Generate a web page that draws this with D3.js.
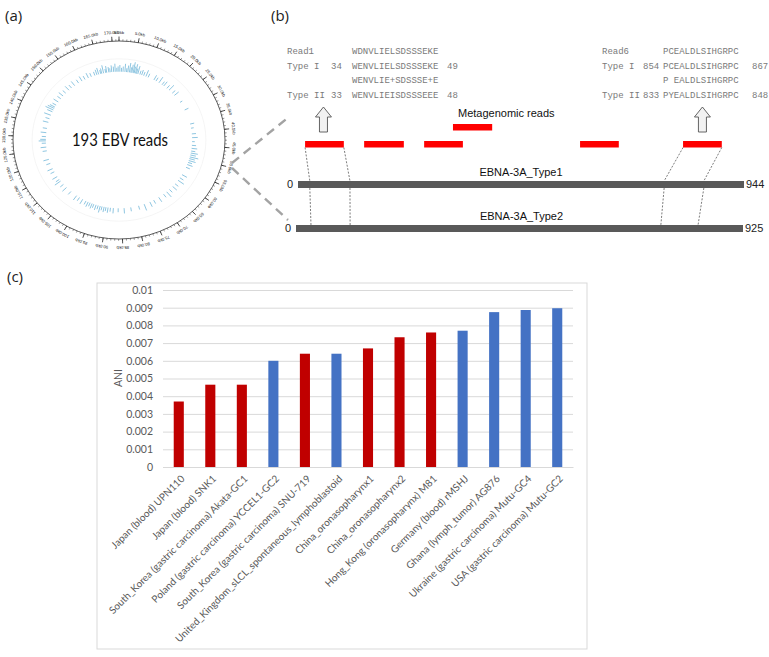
<!DOCTYPE html>
<html><head><meta charset="utf-8">
<script src="https://cdn.jsdelivr.net/npm/d3@7"></script>
<style>body{margin:0;background:#fff}svg{display:block}</style>
</head><body>
<svg id="c" width="769" height="657"></svg>
<script>
// ---------- DATA ----------
const categories = [
  "Japan (blood) UPN110","Japan (blood) SNK1","South_Korea (gastric carcinoma) Akata-GC1",
  "Poland (gastric carcinoma) YCCEL1-GC2","South_Korea (gastric carcinoma) SNU-719",
  "United_Kingdom_sLCL_spontaneous_lymphoblastoid","China_oronasopharynx1","China_oronasopharynx2",
  "Hong_Kong (oronasopharynx) M81","Germany (blood) rMSHJ","Ghana (lymph_tumor) AG876",
  "Ukraine (gastric carcinoma) Mutu-GC4","USA (gastric carcinoma) Mutu-GC2"];
const aniValues = [0.0037,0.00465,0.00465,0.0060,0.0064,0.0064,0.0067,0.00733,0.0076,0.0077,0.00875,0.00887,0.00897];
const barGroup = ["t1","t1","t1","t2","t1","t2","t1","t1","t1","t2","t2","t2","t2"];
const yTicks = [0,0.001,0.002,0.003,0.004,0.005,0.006,0.007,0.008,0.009,0.01];
const yTickLabels = ["0","0.001","0.002","0.003","0.004","0.005","0.006","0.007","0.008","0.009","0.01"];

const genomeKb = 171.8;
const majorTicksKb = [0,5,10,15,20,25,30,35,40,45,50,55,60,65,70,75,80,85,90,95,100,105,110,115,120,125,130,135,140,145,150,155,160,165,170];
// [position kb, depth]
const readHits = [
 [162.6,2],[163.4,3],[164.1,4],[164.9,2],[165.3,3],[166.0,5],[166.8,2],[167.2,4],[168.0,3],[168.5,2],
 [169.1,4],[169.8,3],[170.4,5],[171.0,2],[171.5,3],[0.3,4],[0.9,2],[1.5,3],[2.2,5],[2.8,2],
 [3.3,4],[3.9,6],[4.4,3],[4.8,5],[5.3,7],[5.7,4],[6.2,6],[6.6,3],[7.1,5],[7.9,2],
 [8.6,3],[9.4,2],[10.3,4],[11.2,2],[13.6,3],[14.5,2],[15.8,4],[17.2,2],[18.0,3],[19.5,2],
 [20.6,4],[22.3,2],[23.5,3],[27.0,1],[30.5,2],[36.5,2],[38.2,1],[40.5,2],[42.0,3],[43.6,1],
 [45.1,2],[46.3,3],[47.4,2],[48.2,4],[49.0,3],[49.8,5],[50.5,3],[51.3,4],[52.1,2],[53.0,3],
 [54.2,2],[57.5,3],[59.0,2],[60.2,4],[62.0,2],[63.4,3],[65.1,2],[66.5,4],[68.0,2],[70.2,3],
 [72.4,2],[74.0,3],[76.3,4],[78.5,2],[81.5,2],[84.0,3],[86.2,2],[88.0,3],[89.1,2],[90.0,3],
 [90.8,2],[91.5,3],[92.3,2],[93.0,4],[93.8,2],[94.6,3],[95.5,2],[96.2,3],[97.0,2],[97.8,3],
 [98.7,2],[100.1,3],[101.5,2],[102.8,3],[105.5,2],[107.8,3],[109.5,2],[111.2,4],[112.0,2],[113.4,3],
 [115.6,2],[117.0,3],[119.3,2],[121.0,3],[124.5,2],[126.0,3],[127.6,2],[128.5,4],[129.1,3],[130.2,2],
 [131.8,3],[133.5,2],[136.0,3],[137.5,2],[139.0,4],[140.5,3],[141.3,5],[142.0,4],[142.6,3],[143.5,2],
 [145.0,3],[146.6,2],[148.0,3],[149.5,2],[151.2,3],[152.5,2],[154.0,3],[155.8,2],[157.3,3],[158.6,2],
 [160.0,3],[161.2,2]];

const alignLeftRows = [
  ["Read1","","WDNVLIELSDSSSEKE",""],
  ["Type I","34","WENVLIELSDSSSEKE","49"],
  ["","","WENVLIE+SDSSSE+E",""],
  ["Type II","33","WENVLIEISDSSSEEE","48"]];
const alignRightRows = [
  ["Read6","","PCEALDLSIHGRPC",""],
  ["Type I","854","PCEALDLSIHGRPC","867"],
  ["","","P EALDLSIHGRPC",""],
  ["Type II","833","PYEALDLSIHGRPC","848"]];
const geneNames = ["EBNA-3A_Type1","EBNA-3A_Type2"];
const geneLengths = [944,925];
// metagenomic reads on Type1 coordinates: [start, end, row]
const metaReads = [[15,97,0],[140,224,0],[267,349,0],[328,411,1],[597,679,0],[815,897,0]];
// dashed mapping of read ends: [readIndex, end(0/1), type1 pos, type2 pos]
const readMappings = [[0,0,25,31],[0,1,110,112],[5,0,775,755],[5,1,859,832]];

// ---------- DRAW ----------
const svg = d3.select("#c");
const font = "'Liberation Sans', Arial, sans-serif";

// panel labels
svg.append("text").attr("x",5).attr("y",21).text("(a)").attr("font-family","'Open Sans',sans-serif").attr("font-size",15).attr("fill","#222");
svg.append("text").attr("x",271).attr("y",21).text("(b)").attr("font-family","'Open Sans',sans-serif").attr("font-size",15).attr("fill","#222");
svg.append("text").attr("x",7).attr("y",282).text("(c)").attr("font-family","'Open Sans',sans-serif").attr("font-size",15).attr("fill","#222");

// ---- panel a: circular genome ----
const cx=119, cy=140, rx=106, ry=99;
const ang = d3.scaleLinear().domain([0,genomeKb]).range([0,2*Math.PI]);
const pt = (kb,f)=>[cx+rx*f*Math.sin(ang(kb)), cy-ry*f*Math.cos(ang(kb))];
const ga = svg.append("g");
ga.append("ellipse").attr("cx",cx).attr("cy",cy).attr("rx",rx*0.82).attr("ry",ry*0.82).attr("fill","none").attr("stroke","#efefef").attr("stroke-width",0.6);
ga.append("ellipse").attr("cx",cx).attr("cy",cy).attr("rx",rx).attr("ry",ry).attr("fill","none").attr("stroke","#333").attr("stroke-width",0.8);
const minorKb = d3.range(0,genomeKb,1);
ga.selectAll("line.mn").data(minorKb).join("line").attr("class","mn")
  .attr("x1",d=>pt(d,1)[0]).attr("y1",d=>pt(d,1)[1]).attr("x2",d=>pt(d,1.018)[0]).attr("y2",d=>pt(d,1.018)[1])
  .attr("stroke","#333").attr("stroke-width",0.5);
ga.selectAll("line.mj").data(majorTicksKb).join("line").attr("class","mj")
  .attr("x1",d=>pt(d,1)[0]).attr("y1",d=>pt(d,1)[1]).attr("x2",d=>pt(d,1.045)[0]).attr("y2",d=>pt(d,1.045)[1])
  .attr("stroke","#222").attr("stroke-width",0.8);
ga.selectAll("text.tl").data(majorTicksKb).join("text").attr("class","tl")
  .attr("transform",d=>{const p=pt(d,1.085);return `translate(${p[0]},${p[1]}) rotate(${ang(d)*180/Math.PI})`;})
  .attr("text-anchor","middle").attr("dy","0.3em").attr("font-family",font).attr("font-size",4.2).attr("fill","#222")
  .text(d=>d.toFixed(1)+"kb");
const depthLen = d3.scaleLinear().domain([1,7]).range([0.025,0.11]);
ga.selectAll("line.rd").data(readHits).join("line").attr("class","rd")
  .attr("x1",d=>pt(d[0],0.69)[0]).attr("y1",d=>pt(d[0],0.69)[1])
  .attr("x2",d=>pt(d[0],0.69+depthLen(d[1]))[0]).attr("y2",d=>pt(d[0],0.69+depthLen(d[1]))[1])
  .attr("stroke","#4fa6d0").attr("stroke-width",0.9).attr("opacity",0.7);
ga.append("text").attr("x",cx+1).attr("y",cy+6).attr("text-anchor","middle").attr("font-family","Lato,'Open Sans',sans-serif").attr("font-size",18)
  .attr("textLength",96).attr("lengthAdjust","spacingAndGlyphs").attr("fill","#111").text("193 EBV reads");

// connectors
svg.append("line").attr("x1",232).attr("y1",163).attr("x2",290).attr("y2",116).attr("stroke","#a3a3a3").attr("stroke-width",2.4).attr("stroke-dasharray","9,6");
svg.append("line").attr("x1",232).attr("y1",168).attr("x2",288).attr("y2",220).attr("stroke","#a3a3a3").attr("stroke-width",2.4).attr("stroke-dasharray","9,6");

// ---- panel b ----
const gb = svg.append("g");
const mono = "'Liberation Mono','Courier New',monospace";
const rowY = [54,68.5,83,98];
function alignBlock(rows, xs){
  rows.forEach((r,i)=>{
    r.forEach((t,j)=>{ if(t) gb.append("text").attr("x",xs[j]).attr("y",rowY[i]).attr("font-family",mono).attr("font-size",9).attr("fill","#7a7a7a").attr("xml:space","preserve").text(t); });
  });
}
alignBlock(alignLeftRows,[287,331,352,447]);
alignBlock(alignRightRows,[602,643,663,752]);

const gx = [d3.scaleLinear().domain([0,geneLengths[0]]).range([298,744]), d3.scaleLinear().domain([0,geneLengths[1]]).range([296,743])];
const geneY = [181,225], barH = 7;
const readRowY = [141,124];
// hollow arrows
function arrow(x){
  const top=107,bot=132,hw=8,sw=4,hh=10;
  const p=[[x,top],[x+hw,top+hh],[x+sw,top+hh],[x+sw,bot],[x-sw,bot],[x-sw,top+hh],[x-hw,top+hh]];
  gb.append("path").attr("d","M"+p.join("L")+"Z").attr("fill","#f2f2f2").attr("stroke","#555").attr("stroke-width",0.9);
}
arrow(gx[0](metaReads[0][0]+ (metaReads[0][1]-metaReads[0][0])/2 )-1);
arrow(gx[0](metaReads[5][0]+ (metaReads[5][1]-metaReads[5][0])/2 ));
gb.append("text").attr("x",458).attr("y",117).attr("font-family",font).attr("font-size",11).attr("fill","#111").text("Metagenomic reads");
gb.selectAll("rect.mr").data(metaReads).join("rect").attr("class","mr")
  .attr("x",d=>gx[0](d[0])).attr("width",d=>gx[0](d[1])-gx[0](d[0]))
  .attr("y",d=>readRowY[d[2]]).attr("height",6.5).attr("fill","#ff0000");
// mapping lines
readMappings.forEach(m=>{
  const r = metaReads[m[0]]; const rx0 = gx[0](r[m[1]]);
  gb.append("line").attr("x1",rx0).attr("y1",readRowY[r[2]]+6.5).attr("x2",gx[0](m[2])).attr("y2",geneY[0])
    .attr("stroke","#444").attr("stroke-width",0.7).attr("stroke-dasharray","2,1.5");
  gb.append("line").attr("x1",gx[0](m[2])).attr("y1",geneY[0]+barH).attr("x2",gx[1](m[3])).attr("y2",geneY[1])
    .attr("stroke","#444").attr("stroke-width",0.7).attr("stroke-dasharray","2,1.5");
});
geneNames.forEach((g,i)=>{
  gb.append("rect").attr("x",gx[i](0)).attr("y",geneY[i]).attr("width",gx[i](geneLengths[i])-gx[i](0)).attr("height",barH).attr("fill","#595959");
  gb.append("text").attr("x",(gx[i](0)+gx[i](geneLengths[i]))/2+(i?2:0)).attr("y",geneY[i]-5).attr("text-anchor","middle").attr("font-family",font).attr("font-size",11).attr("fill","#111").text(g);
  gb.append("text").attr("x",gx[i](0)-5).attr("y",geneY[i]+7).attr("text-anchor","end").attr("font-family",font).attr("font-size",11).attr("fill","#222").text("0");
  gb.append("text").attr("x",gx[i](geneLengths[i])+2).attr("y",geneY[i]+7).attr("font-family",font).attr("font-size",11).attr("fill","#222").text(geneLengths[i]);
});

// ---- panel c: bar chart ----
const gc = svg.append("g");
gc.append("rect").attr("x",97).attr("y",283).attr("width",490).attr("height",366).attr("fill","#fff").attr("stroke","#d9d9d9").attr("stroke-width",1);
const x = d3.scaleBand().domain(categories).range([163,573]).paddingInner(0.68).paddingOuter(0.34);
const y = d3.scaleLinear().domain([0,0.01]).range([467,290]);
const colors = {t1:"#C00000", t2:"#4472C4"};
const yAxis = d3.axisLeft(y).tickValues(yTicks).tickFormat((d,i)=>yTickLabels[i]).tickSize(-(573-163)).tickPadding(10);
const ya = gc.append("g").attr("transform","translate(163,0)").call(yAxis);
ya.select(".domain").remove();
ya.selectAll("line").attr("stroke","#d9d9d9");
ya.selectAll("text").attr("font-family","Lato,'Open Sans',sans-serif").attr("font-size",10.5).attr("fill","#595959");
gc.selectAll("rect.bar").data(aniValues).join("rect").attr("class","bar")
  .attr("x",(d,i)=>x(categories[i])).attr("width",x.bandwidth())
  .attr("y",d=>y(d)).attr("height",d=>y(0)-y(d)).attr("fill",(d,i)=>colors[barGroup[i]]);
const xAxis = d3.axisBottom(x).tickSize(0).tickPadding(0);
const xa = gc.append("g").attr("transform",`translate(0,${y(0)})`).call(xAxis);
xa.select(".domain").attr("stroke","#d9d9d9");
xa.selectAll("text").attr("font-family","Lato,'Open Sans',sans-serif").attr("font-size",10).attr("fill","#595959")
  .attr("text-anchor","end").attr("transform","translate(4,10) rotate(-45)").attr("dy","0.35em").attr("y",0);
gc.append("text").attr("transform","translate(122,378) rotate(-90)").attr("text-anchor","middle")
  .attr("font-family","Lato,'Open Sans',sans-serif").attr("font-size",10.5).attr("fill","#595959").text("ANI");
</script>
</body></html>
